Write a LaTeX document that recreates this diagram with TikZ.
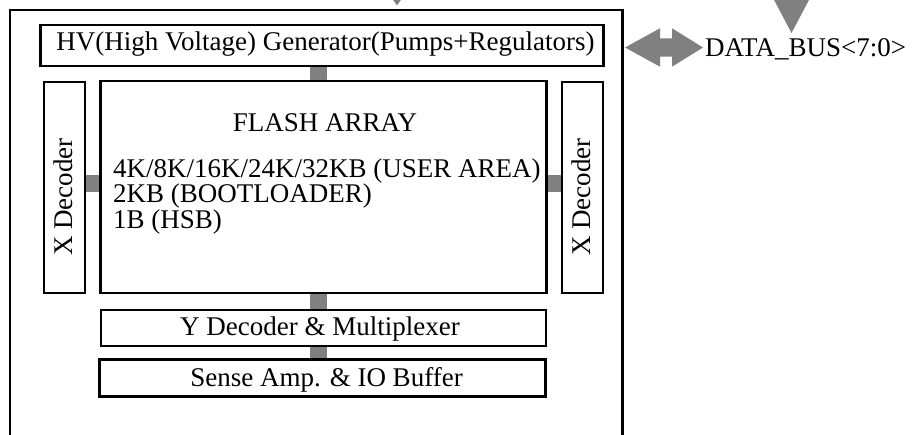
\documentclass[tikz,border=0pt]{standalone}
\usepackage{fontspec}
\setmainfont{Liberation Serif}
\definecolor{cgray}{RGB}{128,128,128}
\begin{document}
\begin{tikzpicture}[x=1pt,y=-1pt,
  blk/.style={draw=black, line width=2.7pt, inner sep=0pt, fill=none},
  conn/.style={draw=cgray, line width=17pt},
  lbl/.style={font=\fontsize{27}{27}\selectfont, inner sep=0pt, text=black},
  gfill/.style={fill=cgray, draw=none}]
\useasboundingbox (0,0) rectangle (917,434);

% boxes
\node[blk, minimum width=612.5pt, minimum height=460pt] (outer) at (316.25,240) {};
\node[blk, minimum width=563pt, minimum height=41pt] (hv) at (322.3,45.5) {};
\node[blk, minimum width=41pt, minimum height=211pt] (xl) at (64.5,187.5) {};
\node[blk, minimum width=446pt, minimum height=212pt] (flash) at (323.8,187) {};
\node[blk, minimum width=41pt, minimum height=211pt] (xr) at (582.5,187.5) {};
\node[blk, minimum width=445pt, minimum height=36pt] (ydec) at (323.5,328) {};
\node[blk, minimum width=446pt, minimum height=37pt] (sense) at (322.5,378) {};

% texts
\node[lbl, anchor=base] (hvt) at (325.5,50.5) {HV(High Voltage) Generator(Pumps+Regulators)};
\node[lbl, anchor=base] (ft) at (325,131.7) {FLASH ARRAY};
\node[lbl, anchor=base west] (f1) at (113,177) {4K/8K/16K/24K/32KB (USER AREA)};
\node[lbl, anchor=base west] (f2) at (113,202.5) {2KB (BOOTLOADER)};
\node[lbl, anchor=base west] (f3) at (113,228) {1B (HSB)};
\node[lbl, rotate=90] (xlt) at (63,197) {X Decoder};
\node[lbl, rotate=90] (xrt) at (581,197) {X Decoder};
\node[lbl, anchor=base] (yt) at (320,335) {Y Decoder \& Multiplexer};
\node[lbl, anchor=base] (st) at (326.5,386.7) {Sense Amp. \& IO Buffer};
\node[lbl, anchor=base west] (bus) at (705,56) {DATA\_BUS\textless7:0\textgreater};

% connectors
\coordinate (vc) at (318.5,0);
\coordinate (hc) at (0,183.5);
\draw[conn] (hv.south -| vc) -- (flash.north -| vc);
\draw[conn] (flash.south -| vc) -- (ydec.north -| vc);
\draw[conn] (ydec.south -| vc) -- (sense.north -| vc);
\draw[conn] (xl.east |- hc) -- (flash.west |- hc);
\draw[conn] (flash.east |- hc) -- (xr.west |- hc);

% double arrow to data bus
\coordinate (da) at (625,47.5);
\coordinate (db) at (703,47.5);
\fill[gfill] (da) -- (660,28.3) -- (660,38.3) -- (672,38.3) -- (672,28.3) -- (db)
  -- (672,66.7) -- (672,56.7) -- (660,56.7) -- (660,66.7) -- cycle;

% incoming arrows from top
\fill[gfill] (773,-2) -- (810,-2) -- (791.5,33) -- cycle;
\fill[gfill] (392.5,-1) -- (401.5,-1) -- (397,5.5) -- cycle;
\end{tikzpicture}
\end{document}
